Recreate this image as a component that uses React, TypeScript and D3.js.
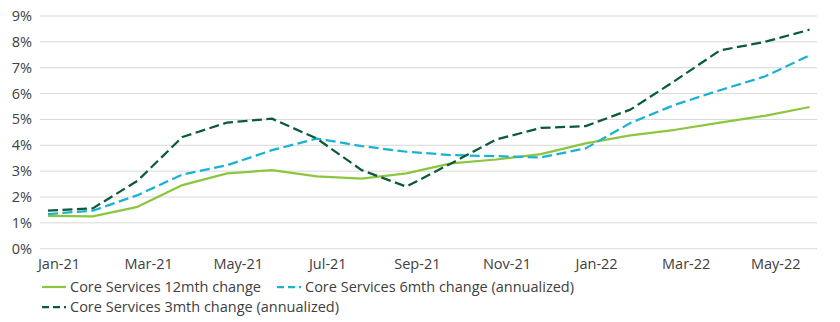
import React from "react";
import * as d3 from "d3";

const months = ["Jan-21","Feb-21","Mar-21","Apr-21","May-21","Jun-21","Jul-21","Aug-21","Sep-21","Oct-21","Nov-21","Dec-21","Jan-22","Feb-22","Mar-22","Apr-22","May-22","Jun-22"];
const core12 = [1.27,1.25,1.62,2.46,2.91,3.04,2.8,2.71,2.91,3.3,3.45,3.66,4.07,4.38,4.6,4.88,5.14,5.48];
const core6 = [1.34,1.47,2.07,2.87,3.23,3.81,4.26,3.97,3.75,3.62,3.58,3.53,3.88,4.86,5.57,6.13,6.66,7.48];
const core3 = [1.47,1.56,2.63,4.32,4.88,5.03,4.26,3.04,2.4,3.3,4.22,4.67,4.74,5.38,6.5,7.67,8.0,8.47];
const yTicks = [0,1,2,3,4,5,6,7,8,9];
const xLabelIdx = [0,2,4,6,8,10,12,14,16];

const series = [
  { name: "Core Services 12mth change", values: core12, color: "#8cc63f", dash: "none" },
  { name: "Core Services 6mth change (annualized)", values: core6, color: "#1bb1d3", dash: "10,4.5" },
  { name: "Core Services 3mth change (annualized)", values: core3, color: "#0b5a38", dash: "10,4.5" },
];

export default function App() {
  const W = 840, H = 322;
  const x = d3.scaleLinear().domain([0, months.length - 1]).range([48, 809.6]);
  const y = d3.scaleLinear().domain([0, 9]).range([248.7, 16]);
  const line = d3.line<number>().x((_, i) => x(i)).y((d) => y(d));
  const font = "'Open Sans', sans-serif";
  const textColor = "#404040";
  const fs = 14.5;
  return (
    <svg width={W} height={H} style={{ position: "absolute", left: 0, top: 0, fontFamily: font }}>
      <rect width={W} height={H} fill="#fff" />
      {yTicks.map((t) => (
        <g key={t}>
          <line x1={40} x2={817} y1={y(t)} y2={y(t)} stroke="#d9d9d9" strokeWidth={1} />
          <text x={32} y={y(t)} dy="0.35em" textAnchor="end" fontSize={fs} fill={textColor}>{t}%</text>
        </g>
      ))}
      {xLabelIdx.map((i) => (
        <text key={i} x={x(i) + 11} y={264} dy="0.35em" textAnchor="middle" fontSize={fs} fill={textColor}>{months[i]}</text>
      ))}
      {series.map((s) => (
        <path key={s.name} d={line(s.values) || ""} fill="none" stroke={s.color} strokeWidth={2.25} strokeDasharray={s.dash} strokeLinejoin="round" />
      ))}
      {[
        { s: series[0], lx: 42, ly: 287 },
        { s: series[1], lx: 277, ly: 287 },
        { s: series[2], lx: 42, ly: 307 },
      ].map(({ s, lx, ly }) => (
        <g key={s.name}>
          <line x1={lx} x2={lx + 24} y1={ly} y2={ly} stroke={s.color} strokeWidth={2.25} strokeDasharray={s.dash === "none" ? "none" : "7,4"} />
          <text x={lx + 28} y={ly} dy="0.35em" fontSize={fs} fill={textColor}>{s.name}</text>
        </g>
      ))}
    </svg>
  );
}
